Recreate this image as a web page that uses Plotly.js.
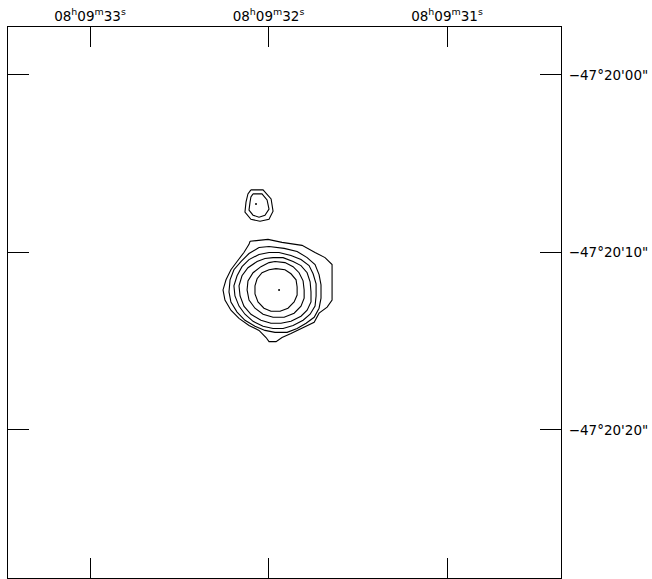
<!DOCTYPE html>
<html>
<head>
<meta charset="utf-8">
<script src="https://cdn.plot.ly/plotly-3.0.1.min.js"></script>
<style>
  html, body { margin: 0; padding: 0; background: #ffffff; }
  #chart { width: 652px; height: 579px; }
</style>
</head>
<body>
<div id="chart"></div>
<script>
// Right ascension ticks (seconds within 08h09m) and declination ticks
// (arcsec past -47°20', negative = further south).
const raTickVals = [33, 32, 31];
const raTickText = [
  '08<sup>h</sup>09<sup>m</sup>33<sup>s</sup>',
  '08<sup>h</sup>09<sup>m</sup>32<sup>s</sup>',
  '08<sup>h</sup>09<sup>m</sup>31<sup>s</sup>'
];
const decTickVals = [0, -10, -20];
const decTickText = ['\u221247\u00b020\'00"', '\u221247\u00b020\'10"', '\u221247\u00b020\'20"'];

// Peak positions of the two sources (RA seconds, Dec arcsec offset)
const mainPeakRA = 31.941, mainPeakDec = -12.11;
const compPeakRA = 32.070, compPeakDec = -7.27;

// Contours of the main source, inner to outer: offsets east / north in arcsec
const main1East  = [0.17, -0.34, -0.68, -0.97, -1.03, -1.03, -0.86, -0.51, -0.06, 0.46, 0.86, 1.20, 1.37, 1.37, 1.25, 0.97, 0.57];
const main1North = [1.20, 1.14, 0.91, 0.57, 0.17, -0.29, -0.68, -1.03, -1.20, -1.20, -1.03, -0.68, -0.23, 0.23, 0.63, 0.97, 1.14];

const main2East  = [0.23, -0.34, -0.80, -1.14, -1.37, -1.43, -1.43, -1.25, -0.86, -0.29, 0.34, 0.91, 1.37, 1.71, 1.82, 1.77, 1.48, 1.03, 0.57];
const main2North = [1.60, 1.54, 1.31, 0.97, 0.51, 0.00, -0.46, -0.91, -1.31, -1.54, -1.54, -1.37, -1.03, -0.57, 0.00, 0.51, 0.97, 1.31, 1.54];

const main3East  = [0.34, -0.23, -0.80, -1.25, -1.60, -1.77, -1.82, -1.82, -1.60, -1.25, -0.68, -0.11, 0.46, 1.03, 1.60, 2.00, 2.22, 2.28, 2.11, 1.77, 1.25, 0.80];
const main3North = [1.82, 1.82, 1.60, 1.37, 0.97, 0.46, -0.11, -0.68, -1.14, -1.48, -1.77, -1.88, -1.88, -1.71, -1.37, -0.91, -0.34, 0.23, 0.80, 1.25, 1.60, 1.77];

const main4East  = [0.57, 0.00, -0.68, -1.25, -1.71, -1.94, -2.11, -2.11, -2.05, -1.77, -1.37, -0.80, -0.23, 0.34, 0.91, 1.48, 1.94, 2.28, 2.51, 2.57, 2.39, 2.11, 1.71, 1.14];
const main4North = [2.11, 2.11, 1.94, 1.71, 1.37, 0.91, 0.34, -0.34, -0.91, -1.37, -1.71, -2.00, -2.17, -2.17, -2.05, -1.77, -1.37, -0.91, -0.34, 0.23, 0.80, 1.31, 1.71, 2.00];

const main5East  = [1.14, 0.57, -0.29, -1.03, -1.60, -2.05, -2.28, -2.39, -2.39, -2.28, -2.00, -1.54, -1.03, -0.46, 0.23, 0.80, 1.37, 1.94, 2.39, 2.74, 2.85, 2.79, 2.57, 2.17, 1.71];
const main5North = [2.39, 2.45, 2.34, 2.17, 1.82, 1.43, 0.86, 0.29, -0.46, -1.03, -1.54, -1.88, -2.17, -2.39, -2.39, -2.28, -2.05, -1.71, -1.25, -0.68, -0.11, 0.57, 1.14, 1.60, 2.05];

const main6East  = [1.65, 0.63, -0.17, -1.31, -2.05, -2.62, -3.02, -3.02, -2.74, -2.28, -2.00, -1.43, -0.68, -0.17, 0.17, 0.57, 0.74, 1.14, 1.71, 2.28, 2.74, 3.08, 3.19, 3.02, 2.74, 2.39, 2.00, 1.71];
const main6North = [2.74, 2.85, 2.68, 2.51, 2.11, 1.82, 1.43, -0.57, -0.97, -1.31, -1.82, -2.11, -2.45, -2.68, -2.91, -2.91, -2.68, -2.28, -2.00, -1.60, -1.14, -0.57, 0.00, 0.57, 1.14, 1.60, 2.11, 2.57];

// Contours of the companion source to the north-east
const comp1East  = [0.17, -0.34, -0.63, -0.74, -0.51, -0.17, 0.17, 0.40, 0.34, 0.29];
const comp1North = [0.57, 0.57, 0.23, -0.29, -0.63, -0.74, -0.63, -0.34, 0.11, 0.40];
const comp2East  = [0.29, -0.40, -0.86, -0.97, -0.74, -0.23, 0.29, 0.63, 0.57, 0.46];
const comp2North = [0.80, 0.80, 0.29, -0.40, -0.86, -0.97, -0.86, -0.46, 0.11, 0.57];

// Arcsec of RA per second of time at this declination
const secScale = 15 * Math.cos((47 + 20 / 60 + 10 / 3600) * Math.PI / 180);

function ring(ra0, dec0, east, north) {
  const x = east.map(e => ra0 + e / secScale);
  const y = north.map(n => dec0 + n);
  x.push(x[0]);
  y.push(y[0]);
  return {
    type: 'scatter', mode: 'lines', x: x, y: y,
    line: { color: '#000000', width: 1.1 },
    hoverinfo: 'skip', showlegend: false
  };
}

const traces = [
  ring(mainPeakRA, mainPeakDec, main1East, main1North),
  ring(mainPeakRA, mainPeakDec, main2East, main2North),
  ring(mainPeakRA, mainPeakDec, main3East, main3North),
  ring(mainPeakRA, mainPeakDec, main4East, main4North),
  ring(mainPeakRA, mainPeakDec, main5East, main5North),
  ring(mainPeakRA, mainPeakDec, main6East, main6North),
  ring(compPeakRA, compPeakDec, comp1East, comp1North),
  ring(compPeakRA, compPeakDec, comp2East, comp2North),
  {
    type: 'scatter', mode: 'markers',
    x: [mainPeakRA, compPeakRA], y: [mainPeakDec, compPeakDec],
    marker: { color: '#000000', size: 2 },
    hoverinfo: 'skip', showlegend: false
  }
];

const tickFont = { family: 'DejaVu Sans, sans-serif', size: 13.5, color: '#000000' };

const layout = {
  width: 652, height: 579,
  margin: { l: 8, r: 91, t: 27, b: 1, pad: 0 },
  paper_bgcolor: '#ffffff', plot_bgcolor: '#ffffff',
  showlegend: false,
  xaxis: {
    range: [33.4594, 30.3614],
    side: 'top',
    tickmode: 'array', tickvals: raTickVals, ticktext: raTickText,
    ticks: 'inside', ticklen: 20, tickwidth: 1, tickcolor: '#000000',
    showline: true, linecolor: '#000000', linewidth: 1, mirror: 'ticks',
    showgrid: false, zeroline: false,
    tickfont: tickFont
  },
  yaxis: {
    range: [-28.34, 2.704],
    side: 'right',
    tickmode: 'array', tickvals: decTickVals, ticktext: decTickText,
    ticks: 'inside', ticklen: 21, tickwidth: 1, tickcolor: '#000000',
    showline: true, linecolor: '#000000', linewidth: 1, mirror: 'ticks',
    showgrid: false, zeroline: false,
    ticklabelstandoff: 4,
    tickfont: tickFont
  }
};

Plotly.newPlot('chart', traces, layout, { displayModeBar: false, staticPlot: true });
</script>
</body>
</html>
